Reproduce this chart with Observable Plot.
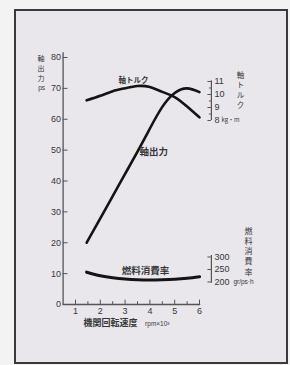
<!DOCTYPE html>
<html><head><meta charset="utf-8">
<script src="https://cdn.jsdelivr.net/npm/d3@7"></script>
<script src="https://cdn.jsdelivr.net/npm/@observablehq/plot@0.6"></script>
<style>
html,body{margin:0;padding:0;background:#f3f3f4;}
#wrap{position:relative;width:290px;height:365px;overflow:hidden;}
#box{position:absolute;left:14px;top:9px;width:274px;height:355px;box-sizing:border-box;border:2px solid #3a3a3a;background:#e9e6ec;}
#chart{position:absolute;left:0;top:0;}
</style></head>
<body><div id="wrap"><div id="box"></div><div id="chart"></div></div>
<script>
// ---- data ----
const rpm    = [1.45, 2, 2.5, 3, 3.5, 4, 4.5, 5, 5.5, 6];        // ×10³ rpm
const power  = [20, 27.9, 35.1, 42.3, 49.5, 57, 64, 68.5, 70, 68.8]; // ps
const torque = [9.55, 9.9, 10.25, 10.48, 10.65, 10.57, 10.2, 9.8, 9.07, 8.24]; // kg·m
const fuel   = [239, 225, 217, 212, 209, 208, 209, 211, 215, 221];   // gr/ps·h

const xTicks = [1, 2, 3, 4, 5, 6];
const xMinor = [1.5, 2.5, 3.5, 4.5, 5.5];
const yTicks = [0, 10, 20, 30, 40, 50, 60, 70, 80];
const torqueTicks = [8, 9, 10, 11];
const torqueMinor = [8.5, 9.5, 10.5];
const fuelTicks = [200, 250, 300];

const labelPower = "軸出力";
const labelTorque = "軸トルク";
const labelFuel = "燃料消費率";
const titleLeft = "軸\n出\n力";
const unitLeft = "ps";
const titleTorque = "軸\nト\nル\nク";
const unitTorque = "kg・m";
const titleFuel = "燃\n料\n消\n費\n率";
const unitFuel = "gr/ps·h";
const titleX = "機関回転速度";
const unitX = "rpm×10³";

// ---- secondary scales mapped onto the left (ps) scale ----
const torqueToY = t => 59.6 + (t - 8) * 4.21;
const fuelToY = f => 7.29 + (f - 200) * 0.081;
const rightAxisX = 6.48;

const powerData = rpm.map((r, i) => ({rpm: r, v: power[i]}));
const torqueData = rpm.map((r, i) => ({rpm: r, v: torqueToY(torque[i])}));
const fuelData = rpm.map((r, i) => ({rpm: r, v: fuelToY(fuel[i])}));

const cjk = "'Noto Sans CJK JP', sans-serif";
const ink = "#141414";
const axisC = "#555";
const txt = "#383838";

const chart = Plot.plot({
  width: 290, height: 365,
  marginLeft: 62.6, marginRight: 91, marginTop: 57, marginBottom: 61,
  style: {background: "transparent", fontFamily: "'Liberation Sans', Arial, sans-serif", color: txt},
  x: {domain: [0.5, 6], axis: null},
  y: {domain: [0, 80], axis: null},
  marks: [
    // left axis
    Plot.ruleX([0.5], {y1: 0, y2: 81.5, stroke: axisC, strokeWidth: 1.3}),
    Plot.ruleY(yTicks, {y: d => d, x1: 0.5, x2: 0.7, stroke: axisC, strokeWidth: 1}),
    Plot.axisY(yTicks, {tickSize: 0, tickPadding: 2, fontSize: 9, label: null, fill: txt}),
    // bottom axis
    Plot.ruleY([0], {x1: 0.5, x2: 6.05, stroke: axisC, strokeWidth: 1.3}),
    Plot.ruleX(xTicks, {x: d => d, y1: 0, y2: 1.4, stroke: axisC, strokeWidth: 1}),
    Plot.ruleX(xMinor, {x: d => d, y1: 0, y2: 0.9, stroke: axisC, strokeWidth: 1}),
    Plot.axisX(xTicks, {tickSize: 0, tickPadding: 3, fontSize: 9, label: null, fill: txt}),
    // torque axis
    Plot.ruleX([rightAxisX], {y1: torqueToY(8), y2: torqueToY(11.05), stroke: axisC, strokeWidth: 1.2}),
    Plot.ruleY(torqueTicks, {y: torqueToY, x1: rightAxisX - 0.14, x2: rightAxisX, stroke: axisC}),
    Plot.ruleY(torqueMinor, {y: torqueToY, x1: rightAxisX - 0.08, x2: rightAxisX, stroke: axisC}),
    Plot.text(torqueTicks, {x: rightAxisX, y: torqueToY, text: d => String(d), dx: 3, textAnchor: "start", fontSize: 9, fill: txt}),
    Plot.text([unitTorque], {x: rightAxisX, y: torqueToY(8), dx: 10, textAnchor: "start", fontSize: 6, fill: txt, fontFamily: cjk}),
    Plot.text([titleTorque], {x: rightAxisX, y: torqueToY(11), dx: 29, dy: -11, lineAnchor: "top", lineHeight: 1.35, fontSize: 7.5, fill: txt, fontFamily: cjk}),
    // fuel axis
    Plot.ruleX([rightAxisX], {y1: fuelToY(195), y2: fuelToY(306), stroke: axisC, strokeWidth: 1.2}),
    Plot.ruleY(fuelTicks, {y: fuelToY, x1: rightAxisX - 0.14, x2: rightAxisX, stroke: axisC}),
    Plot.text(fuelTicks, {x: rightAxisX, y: fuelToY, text: d => String(d), dx: 3, textAnchor: "start", fontSize: 9, fill: txt}),
    Plot.text([unitFuel], {x: rightAxisX, y: fuelToY(200), dx: 22, textAnchor: "start", fontSize: 6.5, fill: txt}),
    Plot.text([titleFuel], {x: rightAxisX, y: fuelToY(300), dx: 37, dy: -30.5, lineAnchor: "top", lineHeight: 1.28, fontSize: 8, fill: txt, fontFamily: cjk}),
    // left title
    Plot.text([titleLeft], {x: 0.5, y: 80, dx: -22, dy: -4, lineAnchor: "top", lineHeight: 1.43, fontSize: 7, fill: txt, fontFamily: cjk}),
    Plot.text([unitLeft], {x: 0.5, y: 70, dx: -21.5, fontSize: 6.5, fill: txt}),
    // x title
    Plot.text([titleX], {frameAnchor: "bottom-left", dx: 20.4, dy: 21.5, textAnchor: "start", fontSize: 9, fontWeight: "bold", fill: txt, fontFamily: cjk}),
    Plot.text([unitX], {frameAnchor: "bottom-left", dx: 82, dy: 21.5, textAnchor: "start", fontSize: 6.5, fill: txt}),
    // curves
    Plot.line(powerData, {x: "rpm", y: "v", curve: "natural", stroke: ink, strokeWidth: 2.6}),
    Plot.line(torqueData, {x: "rpm", y: "v", curve: "natural", stroke: ink, strokeWidth: 2.6}),
    Plot.line(fuelData, {x: "rpm", y: "v", curve: "natural", stroke: ink, strokeWidth: 3.2}),
    // curve labels
    Plot.text([powerData[4]], {x: "rpm", y: "v", text: () => labelPower, dx: 2, textAnchor: "start", fontSize: 9.5, fontWeight: "bold", fill: txt, fontFamily: cjk}),
    Plot.text([torqueData[4]], {x: "rpm", y: "v", text: () => labelTorque, dx: -4, dy: -5.5, fontSize: 7.5, fontWeight: "bold", fill: txt, fontFamily: cjk}),
    Plot.text([fuelData[4]], {x: "rpm", y: "v", text: () => labelFuel, dx: 8, dy: -9, fontSize: 9.5, fontWeight: "bold", fill: txt, fontFamily: cjk})
  ]
});
document.getElementById("chart").appendChild(chart);
</script>
</body></html>
